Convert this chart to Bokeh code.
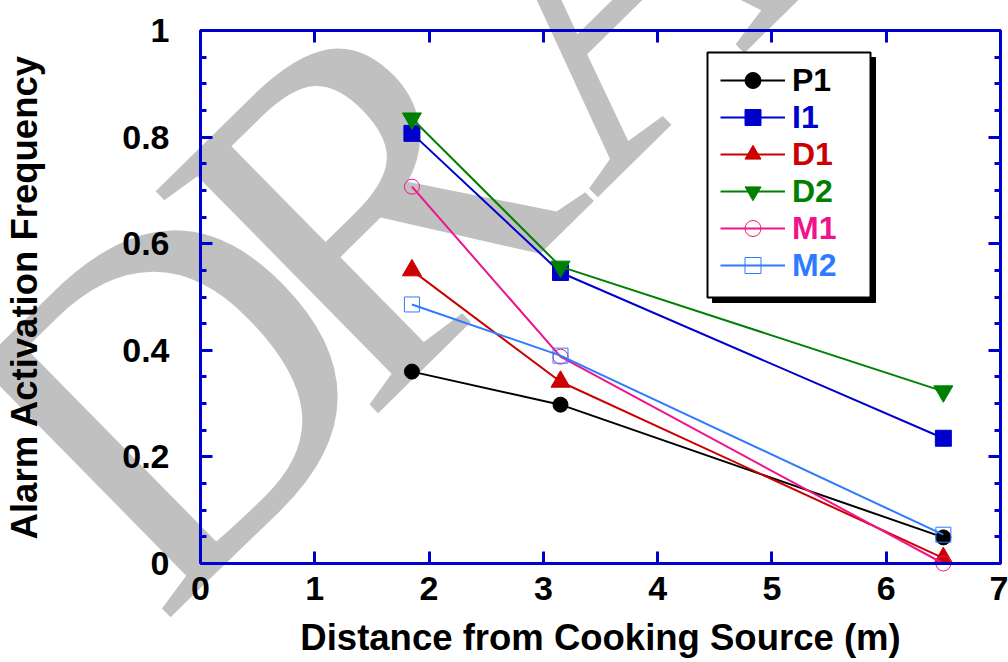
import math
from bokeh.plotting import figure
from bokeh.models import (LinearAxis, SingleIntervalTicker, NumeralTickFormatter,
                          CustomJSTickFormatter, Legend, LegendItem, BoxAnnotation)
from bokeh.core.properties import value
from bokeh.embed import file_html
from bokeh.resources import INLINE

# distances of the three alarm locations (m)
distance = [1.85, 3.15, 6.5]

# alarm activation frequency per alarm type
p1 = [0.360, 0.298, 0.049]
i1 = [0.807, 0.546, 0.235]
d1 = [0.550, 0.341, 0.010]
d2 = [0.835, 0.557, 0.323]
m1 = [0.707, 0.388, 0.000]
m2 = [0.486, 0.390, 0.054]

series_names = ["P1", "I1", "D1", "D2", "M1", "M2"]
series_values = [p1, i1, d1, d2, m1, m2]
series_colors = ["#000000", "#0000CC", "#CC0000", "#008000", "#F0148C", "#2E7BFF"]
series_markers = ["circle", "square", "triangle", "inverted_triangle", "circle", "square"]
series_filled = [True, True, True, True, False, False]
series_sizes = [15, 16, 19, 19, 15, 15]

FONT = "Liberation Sans"
AXIS_BLUE = "#0000CC"

p = figure(width=1008, height=662, x_range=(0, 7), y_range=(0, 1),
           output_backend="svg", toolbar_location=None,
           min_border_left=200, min_border_right=8,
           min_border_top=30, min_border_bottom=99)
p.grid.visible = False
p.outline_line_color = AXIS_BLUE
p.outline_line_width = 3


# pixel position -> data units (used only for decorations)
def px_x(px):
    return (px - 200) / (800 / 7)


def px_y(py):
    return (563 - py) / 533


# "DRAFT" watermark, letter by letter along a tilted baseline,
# drawn below axes and data and not clipped to the frame
wm_letters = ["D", "R", "A", "F", "T"]
wm_advance = [0.60, 0.667, 0.722, 0.556, 0.611]   # in em
wm_size = 480
wm_angle = 0.777
bx, by = math.cos(wm_angle), -math.sin(wm_angle)
sx, sy = 46.7, 511.0
wm_x, wm_y = [], []
for adv in wm_advance:
    wm_x.append(px_x(sx))
    wm_y.append(px_y(sy))
    sx += adv * wm_size * bx
    sy += adv * wm_size * by
p.text(x=wm_x, y=wm_y, text=wm_letters, angle=wm_angle,
       text_font=value("Liberation Serif"), text_font_size=f"{wm_size}px",
       text_color="#C0C0C0", text_align="left", text_baseline="alphabetic",
       level="guide")

x_ticker = SingleIntervalTicker(interval=1, num_minor_ticks=0)
y_ticker = SingleIntervalTicker(interval=0.2, num_minor_ticks=4)


def style_axis(ax, show_labels):
    ax.level = "annotation"
    ax.axis_line_color = AXIS_BLUE
    ax.axis_line_width = 3
    ax.major_tick_line_color = AXIS_BLUE
    ax.major_tick_line_width = 3
    ax.minor_tick_line_color = AXIS_BLUE
    ax.minor_tick_line_width = 3
    ax.major_tick_in = 12
    ax.major_tick_out = 0
    ax.minor_tick_in = 6
    ax.minor_tick_out = 0
    if show_labels:
        ax.major_label_text_font = FONT
        ax.major_label_text_font_style = "bold"
        ax.major_label_text_font_size = "34px"
        ax.major_label_text_color = "black"
        ax.axis_label_text_font = FONT
        ax.axis_label_text_font_style = "bold"
        ax.axis_label_text_font_size = "36.5px"
        ax.axis_label_text_color = "black"
    else:
        ax.formatter = CustomJSTickFormatter(code="return ''")
        ax.major_label_standoff = 0


p.xaxis.ticker = x_ticker
p.yaxis.ticker = y_ticker
p.yaxis.formatter = NumeralTickFormatter(format="0.[0]")
p.xaxis.axis_label = "Distance from Cooking Source (m)"
p.yaxis.axis_label = "Alarm Activation Frequency"
style_axis(p.xaxis[0], True)
style_axis(p.yaxis[0], True)
p.xaxis.major_label_standoff = 13
p.xaxis.axis_label_standoff = 14
p.yaxis.major_label_standoff = 31
p.yaxis.axis_label_standoff = 74

top_axis = LinearAxis(ticker=x_ticker)
right_axis = LinearAxis(ticker=y_ticker)
style_axis(top_axis, False)
style_axis(right_axis, False)
p.add_layout(top_axis, "above")
p.add_layout(right_axis, "right")

renderers = []
for name, vals, col, mk, filled, sz in zip(series_names, series_values, series_colors,
                                             series_markers, series_filled, series_sizes):
    ln = p.line(distance, vals, line_color=col, line_width=2, level="annotation")
    sc = p.scatter(distance, vals, marker=mk, size=sz, line_color=col,
                   fill_color=col if filled else None, line_width=1, level="annotation")
    renderers.append((name, col, ln, sc))

# legend box with drop shadow
p.add_layout(BoxAnnotation(left=px_x(712), right=px_x(875), top=px_y(57), bottom=px_y(302),
                           fill_color="black", fill_alpha=1, line_color="black",
                           line_alpha=1, level="annotation"))
p.add_layout(BoxAnnotation(left=px_x(707), right=px_x(870), top=px_y(52), bottom=px_y(297),
                           fill_color="white", fill_alpha=1, line_color="black",
                           line_alpha=1, line_width=2, level="annotation"))

for i, (name, col, ln, sc) in enumerate(renderers):
    row_center = 80 + 37 * i
    lg = Legend(items=[LegendItem(label=name, renderers=[ln, sc])],
                location=(520, 563 - row_center - 20),
                glyph_width=65, glyph_height=40, label_standoff=7,
                padding=0, margin=0, spacing=0,
                border_line_color=None, background_fill_alpha=0,
                label_text_font=FONT, label_text_font_style="bold",
                label_text_font_size="32px", label_text_color=col)
    p.add_layout(lg)

open("out.html", "w").write(file_html(p, INLINE))
